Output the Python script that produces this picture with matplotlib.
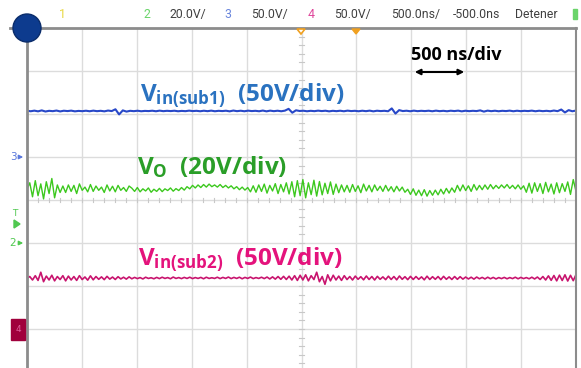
import numpy as np
import matplotlib
matplotlib.use('Agg')
import matplotlib.pyplot as plt
from matplotlib.patches import Circle, Rectangle, Polygon

# ---- scope settings ----
volts_per_div = {'vin1': 50.0, 'vo': 20.0, 'vin2': 50.0}
ground_div = {'vin1': 1.0, 'vo': -1.0, 'vin2': -3.0}   # channel position markers
header_labels = ['1', '2', '20.0V/', '3', '50.0V/', '4', '50.0V/', '500.0ns/', '-500.0ns', 'Detener']

# ---- traces (volts), spread across the 10 divisions ----
vin1 = [53.8, 53.2, 53.9, 53.1, 54.2, 52.9, 53.7, 53.3, 54.0, 53.0, 53.8, 53.4, 53.9, 53.1, 53.6, 53.3,
        53.8, 53.2, 53.9, 53.3, 53.7, 53.1, 54.0, 53.4,
        55.5, 49.5, 54.2, 52.8,
        53.7, 53.3, 53.8, 53.2, 53.6, 53.4, 53.8, 53.2, 53.9, 53.3, 53.7, 53.4, 53.8, 53.2, 53.6, 53.3,
        53.9, 53.4, 53.7, 53.2, 53.8, 53.3, 53.9, 53.2, 53.7, 53.4, 53.8, 53.1, 54.0, 53.3, 53.8, 53.2,
        53.9, 53.4, 53.7, 53.2, 54.0, 53.1, 53.9, 53.3, 53.8, 53.2, 53.9,
        56.0, 51.5, 54.3,
        53.5, 53.8, 53.2, 53.7, 53.3, 53.9, 53.4, 53.8, 53.1, 53.7, 53.3, 53.8, 53.2, 53.9, 53.4, 53.7,
        53.2, 53.8, 53.3, 53.9, 53.1, 53.8, 53.4, 53.7, 53.2,
        56.5, 50.5, 54.5,
        53.4, 53.8, 53.2, 53.9, 53.3, 53.7, 53.4, 53.8, 53.2, 53.9, 53.3, 53.7, 53.2, 53.8, 53.4, 53.9,
        53.1, 53.8, 53.3, 53.7, 53.4, 54.2, 52.8, 53.9, 53.3, 53.8, 53.2, 53.7, 53.4, 53.9, 53.2, 53.8,
        53.3, 53.7, 53.4, 53.9, 53.2, 53.8, 53.3, 53.7, 53.2, 54.0, 53.3,
        55.2, 51.8, 54.5, 53.2, 54.0]

vo = [25.0, 28.0, 21.5, 29.0, 22.0, 27.5, 20.5, 28.5, 23.0, 30.0, 21.0, 27.0, 23.5,
      26.5, 23.5, 27.0, 24.0, 26.8, 23.0, 27.5, 24.5, 26.0, 23.8, 27.2, 24.0, 26.5, 24.5, 26.0, 23.5,
      27.0, 24.2, 26.4, 23.8, 26.8, 24.5, 25.8, 24.0, 26.5,
      25.5, 24.0, 25.8, 23.8, 25.2, 24.2, 25.6, 23.6, 25.0, 24.0, 25.4, 23.9, 25.2, 24.4, 25.6, 24.1,
      25.3, 24.4, 25.8, 24.6,
      26.2, 25.2, 26.8, 25.6, 27.0, 25.8, 27.2, 26.0, 27.4, 26.2, 27.0, 26.0, 27.2, 25.8, 26.8, 25.6,
      26.6, 25.2, 26.2, 24.8, 26.0, 24.6, 25.8,
      23.8, 26.6, 23.6, 27.0, 24.0, 27.4, 23.2, 26.8, 24.2, 27.6, 23.0, 27.2, 23.8, 28.0, 22.8,
      28.5, 21.5, 29.0, 22.0, 29.5, 21.0, 28.0, 22.5, 29.2, 21.8, 28.6, 22.4, 27.8, 23.0, 28.4, 22.6,
      27.4, 23.4, 27.0, 23.8,
      26.8, 23.6, 27.2, 24.0, 26.6, 23.4, 27.4, 24.2, 26.8, 23.8, 27.0, 24.4, 26.4, 24.0, 26.8, 24.2,
      26.2, 23.8, 26.4, 24.2, 26.0, 23.6,
      25.0, 22.6, 25.2, 22.2, 24.6, 22.0, 24.8, 21.8, 24.4, 22.2, 24.6, 22.4, 25.0, 22.8, 25.4, 23.2,
      25.6, 23.6,
      26.8, 24.2, 27.0, 24.4, 26.6, 24.0, 27.2, 24.6, 26.8, 24.8, 27.0, 25.0, 27.2, 25.2, 26.8, 25.4,
      27.0, 25.6, 27.2, 25.4, 26.8, 25.2, 27.0, 25.0, 26.6,
      23.6, 27.8, 23.2, 28.0, 24.0, 27.6, 23.0, 28.2, 23.8, 27.4, 22.8, 28.0, 23.4, 27.6, 24.0, 28.4,
      22.6, 29.5, 24.0]

vin2 = [59.0, 61.0, 57.0, 62.0, 56.5, 66.0, 55.0, 61.5, 57.0, 62.5, 56.0, 61.0, 57.5, 62.0, 56.0, 61.5,
        57.0, 61.0, 56.5, 62.0, 57.5, 60.5, 56.8, 61.8, 57.2, 61.0, 57.8, 60.6, 57.4, 61.2, 58.0, 60.4,
        57.6, 60.8, 58.2, 60.2, 58.0, 60.6,
        58.4, 60.0, 58.6, 59.8, 58.2, 60.2, 58.8, 59.6, 58.4, 60.0, 58.6, 60.2, 58.8, 59.8, 58.4, 60.4,
        58.8, 59.8, 58.6, 60.0, 58.8, 60.2, 58.6, 59.8, 58.8, 60.0, 58.4, 60.2, 58.8, 59.6, 58.8, 60.2,
        58.6, 60.0, 58.8, 60.4, 58.6, 60.0, 58.8, 60.2, 58.4, 60.0, 58.8, 60.4, 58.6, 59.8, 58.8, 60.2,
        58.6, 60.4, 58.2, 60.6, 58.0, 61.0, 57.8, 61.2, 57.6, 61.4,
        57.0, 62.0, 56.5, 62.5, 57.0, 63.0, 56.0, 62.0, 57.5, 66.0, 55.0, 61.0, 52.0, 63.0, 56.0, 62.5,
        57.0, 61.5, 56.5, 62.0,
        57.5, 61.0, 57.0, 61.5, 57.8, 60.8, 57.2, 61.6, 57.6, 61.0, 57.0, 61.2, 57.8, 60.6, 57.4, 61.4,
        57.6, 61.0, 57.2, 61.6, 57.8, 60.8, 57.4, 61.2, 57.6, 61.0, 57.8, 60.6, 57.2, 61.4, 57.6, 60.8,
        57.8, 61.0, 57.4, 61.2, 57.8, 60.6, 57.6, 61.0, 57.8, 60.8, 58.0, 60.4, 58.2, 60.2, 58.0, 60.4,
        58.4, 60.0, 58.2, 60.2, 58.4, 60.0, 58.2,
        59.8, 58.6, 60.0, 58.4, 59.8, 58.6, 60.2, 58.4, 60.0, 58.6, 59.8, 58.4, 60.2, 58.2, 60.4,
        57.6, 61.0, 57.0, 61.8, 56.6, 62.2, 56.0, 62.6, 56.4, 63.0, 55.8, 62.4, 56.2, 63.2]

plt.rcParams['mathtext.fontset'] = 'custom'
plt.rcParams['mathtext.rm'] = 'Open Sans:bold'
plt.rcParams['mathtext.it'] = 'Open Sans:bold'
plt.rcParams['mathtext.bf'] = 'Open Sans:bold'

W, H = 581, 368
fig = plt.figure(figsize=(W / 100, H / 100), dpi=100)
fig.patch.set_facecolor('white')

# screen area: 10 x 8 divisions, bottom row cut off
ax = fig.add_axes([27 / W, -4 / H, 549 / W, 344 / H])
ax.set_xlim(0, 10)
ax.set_ylim(-4, 4)
ax.axis('off')

grid_c = '#dcdcdc'
for gx in range(1, 10):
    ax.plot([gx, gx], [-4, 4], color=grid_c, lw=1.0, zorder=1)
for gy in range(-3, 4):
    ax.plot([0, 10], [gy, gy], color=grid_c, lw=1.0, zorder=1)
# minor ticks on the centre lines
for t in np.arange(0, 10.01, 0.2):
    ax.plot([t, t], [-0.05, 0.05], color='#c8c8c8', lw=0.8, zorder=1)
for t in np.arange(-4, 4.01, 0.2):
    ax.plot([4.95, 5.05], [t, t], color='#c8c8c8', lw=0.8, zorder=1)

ax.plot(np.linspace(0, 10, len(vin1)), ground_div['vin1'] + np.array(vin1) / volts_per_div['vin1'],
        color='#2848c8', lw=1.5, zorder=3)
ax.plot(np.linspace(0, 10, len(vo)), ground_div['vo'] + np.array(vo) / volts_per_div['vo'],
        color='#3cc81e', lw=1.0, zorder=3)
ax.plot(np.linspace(0, 10, len(vin2)), ground_div['vin2'] + np.array(vin2) / volts_per_div['vin2'],
        color='#c8146e', lw=1.2, zorder=3)

# overlay in pixel coordinates for the scope decorations
ov = fig.add_axes([0, 0, 1, 1], facecolor='none')
ov.set_xlim(0, W)
ov.set_ylim(H, 0)
ov.axis('off')

def ypx(div):
    return 200 - div * 43

ov.plot([10, 576], [28, 28], color='#8c8c8c', lw=2, zorder=4)
ov.plot([27, 27], [28, H], color='#8c8c8c', lw=2, zorder=4)
ov.plot([576, 576], [28, H], color='#8c8c8c', lw=1.5, zorder=4)
ov.add_patch(Circle((27, 28), 14, facecolor='#0d3b8e', edgecolor='#0a2c6a', lw=1, zorder=6))

hdr_x = [62, 147, 188, 228, 269, 311, 352, 416, 476, 536]
hdr_c = ['#e8d840', '#6ad46a', '#404040', '#6a86dc', '#404040', '#e0489c', '#404040',
         '#404040', '#404040', '#404040']
for lbl, x, c in zip(header_labels, hdr_x, hdr_c):
    ov.text(x, 18, lbl, ha='center', va='baseline', fontsize=8.8, color=c, family='Roboto')
ov.add_patch(Rectangle((573, 9), 4, 10, color='#6ad46a', zorder=5))

# trigger / time markers under the top edge
ov.add_patch(Polygon([[297, 29], [305, 29], [301, 34]], closed=True, facecolor='white',
                     edgecolor='#f0a020', lw=1.2, zorder=5))
ov.add_patch(Polygon([[352, 29], [360, 29], [356, 34]], closed=True, facecolor='#f0a020',
                     edgecolor='#f0a020', lw=1, zorder=5))

# channel ground markers on the left edge
ov.text(13, ypx(ground_div['vin1']), '3', ha='center', va='center', fontsize=7.5, color='#5a78dc')
ov.annotate('', xy=(26, ypx(ground_div['vin1'])), xytext=(17, ypx(ground_div['vin1'])),
            arrowprops=dict(arrowstyle='-|>', color='#5a78dc', lw=1, mutation_scale=6))
ov.text(15, 214, 'T', ha='center', va='center', fontsize=6.5, color='#50c850')
ov.add_patch(Polygon([[14, 220], [14, 228], [20, 224]], closed=True, color='#50c850', zorder=5))
ov.text(13, ypx(ground_div['vo']), '2', ha='center', va='center', fontsize=7.5, color='#50c850')
ov.annotate('', xy=(26, ypx(ground_div['vo'])), xytext=(17, ypx(ground_div['vo'])),
            arrowprops=dict(arrowstyle='-|>', color='#50c850', lw=1, mutation_scale=6))
ov.add_patch(Rectangle((11, ypx(ground_div['vin2']) - 10), 14, 21, color='#a0003c', zorder=5))
ov.text(18, ypx(ground_div['vin2']), '4', ha='center', va='center', fontsize=6.5, color='#e0609c',
        zorder=6)

# annotations
ov.text(140, 102, r'V$_{\mathrm{in(sub1)}}$  (50V/div)', fontsize=17.5, weight='bold',
        family='Open Sans', color='#2a72c0', va='baseline', zorder=7)
ov.text(137, 174, r'V$_{\mathrm{O}}$  (20V/div)', fontsize=17.5, weight='bold',
        family='Open Sans', color='#2a9e28', va='baseline', zorder=7)
ov.text(138, 266, r'V$_{\mathrm{in(sub2)}}$  (50V/div)', fontsize=17.5, weight='bold',
        family='Open Sans', color='#e4137c', va='baseline', zorder=7)
ov.text(411, 60, '500 ns/div', fontsize=13, weight='bold', family='Open Sans', color='black',
        va='baseline', zorder=7)
ov.annotate('', xy=(412, 72), xytext=(467, 72),
            arrowprops=dict(arrowstyle='<|-|>', color='black', lw=1.5, mutation_scale=8))

fig.savefig('out.png', dpi=100)
